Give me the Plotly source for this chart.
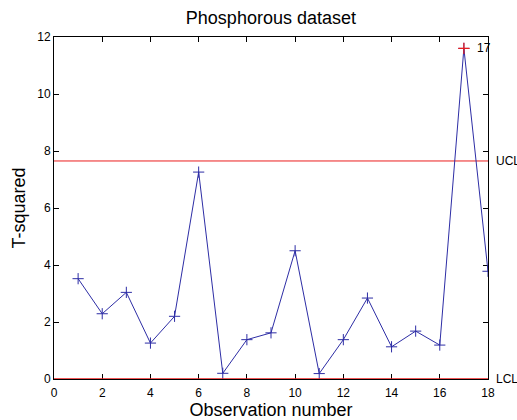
import plotly.graph_objects as go

obs = list(range(1, 19))
tsq = [3.52, 2.29, 3.04, 1.26, 2.20, 7.26, 0.20, 1.38, 1.62, 4.50,
       0.19, 1.38, 2.84, 1.13, 1.68, 1.19, 11.60, 3.78]
ucl = 7.65
lcl = 0.0
outlier_idx = [17]

blue = "rgb(45,45,165)"
red = "rgb(235,30,30)"
font = "Liberation Sans, Arial, Helvetica, sans-serif"

fig = go.Figure()
fig.add_trace(go.Scatter(x=[0, 18], y=[ucl, ucl], mode="lines",
                         line=dict(color=red, width=1), hoverinfo="skip"))
fig.add_trace(go.Scatter(x=obs, y=tsq, mode="lines+markers",
                         line=dict(color=blue, width=1),
                         marker=dict(symbol="cross-thin", size=8,
                                     line=dict(color=blue, width=1))))
ox = [obs[i - 1] for i in outlier_idx]
oy = [tsq[i - 1] for i in outlier_idx]
fig.add_trace(go.Scatter(x=ox, y=oy, mode="markers",
                         marker=dict(symbol="cross-thin", size=8,
                                     line=dict(color=red, width=1.2))))
fig.add_trace(go.Scatter(x=[0, 18], y=[lcl, lcl], mode="lines",
                         line=dict(color=red, width=1.5), hoverinfo="skip", cliponaxis=False))

for i in outlier_idx:
    fig.add_annotation(x=obs[i - 1] + 0.45, y=tsq[i - 1], text=str(i), showarrow=False,
                       xanchor="left", yanchor="middle", font=dict(size=12, color="black"))
fig.add_annotation(xref="paper", x=1.0135, y=ucl, text="UCL", showarrow=False,
                   xanchor="left", yanchor="middle", font=dict(size=12, color="black"))
fig.add_annotation(xref="paper", x=1.0135, y=lcl, text="LCL", showarrow=False,
                   xanchor="left", yanchor="middle", font=dict(size=12, color="black"))

axis_common = dict(showgrid=False, zeroline=False, showline=True, linecolor="black",
                   linewidth=1, mirror="ticks", ticks="inside", ticklen=5,
                   tickcolor="black", tickfont=dict(size=12, color="black"),
                   automargin=False, layer="below traces")

fig.update_layout(
    width=517, height=420,
    margin=dict(l=54, r=29, t=37, b=41),
    paper_bgcolor="white", plot_bgcolor="white",
    showlegend=False,
    font=dict(family=font, color="black"),
    title=dict(text="Phosphorous dataset", x=0.524, xanchor="center", y=0.957,
               yanchor="middle", font=dict(size=18, color="black")),
    xaxis=dict(range=[0, 18], tickvals=list(range(0, 19, 2)), ticklabelstandoff=3,
               title=dict(text="Observation number", font=dict(size=18), standoff=2),
               **axis_common),
    yaxis=dict(range=[0, 12], tickvals=list(range(0, 13, 2)),
               title=dict(text="T-squared", font=dict(size=18), standoff=6),
               **axis_common),
)

fig.write_html("out.html")
